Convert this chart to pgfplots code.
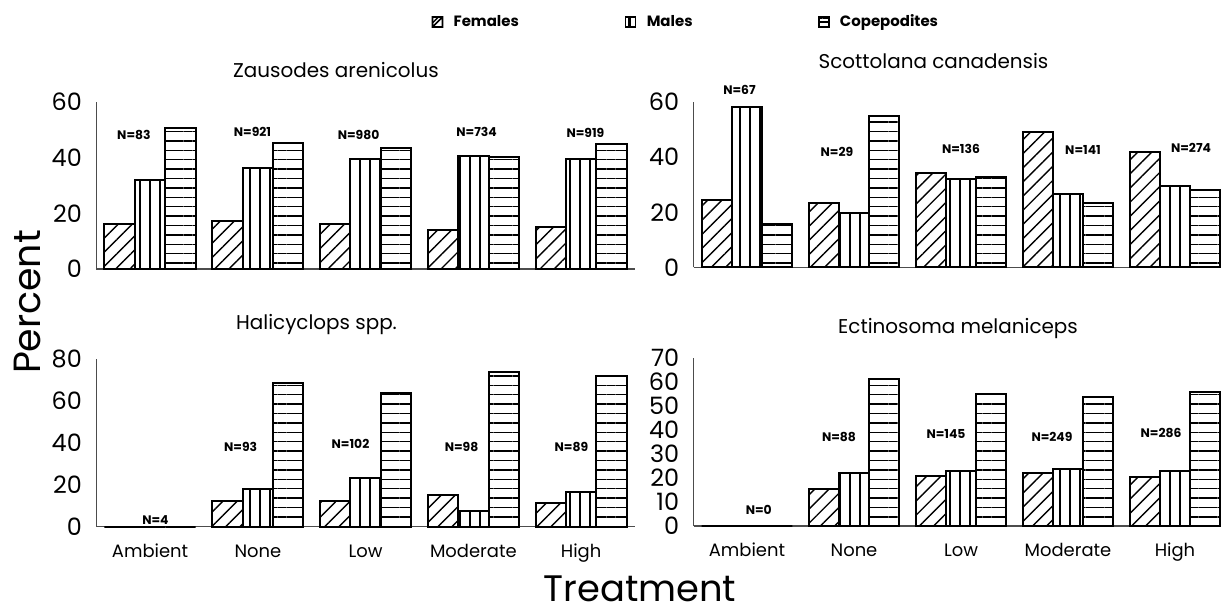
\documentclass[border=0pt]{standalone}
\usepackage{fontspec}
\setmainfont{Poppins}
\usepackage{pgfplots}
\pgfplotsset{compat=1.18}
\usetikzlibrary{patterns.meta}

% hatching for the three life stages
\tikzset{
  fem/.style={pattern={Lines[angle=45,distance=5bp,line width=0.7bp]}},
  mal/.style={pattern={Lines[angle=90,distance=5bp,line width=0.7bp]}},
  cop/.style={pattern={Lines[angle=0,distance=4.7bp,line width=0.7bp]}},
  nlab/.style={font=\bfseries\fontsize{6.2}{6.2}\selectfont, inner sep=0pt},
}

\pgfplotsset{
  panel/.style={
    scale only axis, ybar, bar width=0.282,
    xmin=-0.5, xmax=4.5, ymin=0,
    axis x line*=bottom, axis y line*=left,
    axis line style={line width=0.6bp, black!70},
    major tick length=0pt,
    /pgf/number format/assume math mode=true,
    yticklabel style={font=\fontsize{12}{12}\selectfont, anchor=east, inner sep=0pt, xshift=-7bp},
    xticklabel style={font=\fontsize{9}{9}\selectfont, anchor=base, inner sep=0pt, yshift=-15.25bp},
    title style={font=\fontsize{10}{10}\selectfont, anchor=center, inner sep=0pt},
    every axis plot/.append style={draw=black, line width=1bp},
    clip=false,
  },
  treat/.style={xtick={0,1,2,3,4}, xticklabels={Ambient,None,Low,Moderate,High}},
}

\begin{document}
\begin{tikzpicture}
\path[use as bounding box] (0,0) rectangle (610.5bp,305.5bp);

% Zausodes arenicolus
\begin{axis}[panel, at={(48.1bp,171bp)}, anchor=south west,
  width=269.4bp, height=83.65bp, ymax=60, ytick={0,20,40,60}, xtick=\empty,
  title={Zausodes arenicolus}, title style={at={(axis description cs:0.445,1.1196)}},
  legend columns=3,
  legend style={at={(axis description cs:0.6219,1.4764)}, anchor=west, draw=none, fill=none,
    inner sep=0pt, font=\bfseries\fontsize{7.5}{7.5}\selectfont, nodes={inner sep=0pt},
    /tikz/every odd column/.append style={column sep=5.15bp},
    /tikz/every even column/.append style={column sep=0pt}},
]
\addplot[fem, bar shift=-0.282,
  legend image code/.code={\draw[line width=0.8bp] (0bp,-2.5bp) rectangle (5bp,2.5bp) (0bp,-2.5bp) -- (5bp,2.5bp);}]
  coordinates {(0,16.1) (1,17.3) (2,16.0) (3,14.0) (4,15.0)};
\addlegendentry[text width=85.65bp]{Females}
\addplot[mal, bar shift=0,
  legend image code/.code={\draw[line width=0.8bp] (0bp,-2.5bp) rectangle (5bp,2.5bp) (1.7bp,-2.5bp) -- (1.7bp,2.5bp);}]
  coordinates {(0,31.9) (1,36.3) (2,39.5) (3,40.5) (4,39.3)};
\addlegendentry[text width=85.65bp]{Males}
\addplot[cop, bar shift=0.282,
  legend image code/.code={\draw[line width=0.8bp] (0bp,-2.5bp) rectangle (5bp,2.5bp) (0bp,0bp) -- (5bp,0bp);}]
  coordinates {(0,50.5) (1,45.1) (2,43.3) (3,40.3) (4,44.8)};
\addlegendentry[text width=85.65bp]{Copepodites}
\node[nlab] at (axis cs:-0.15,48.1) {N=83};
\node[nlab] at (axis cs:0.95,49.2) {N=921};
\node[nlab] at (axis cs:1.935,48.1) {N=980};
\node[nlab] at (axis cs:3.03,49.2) {N=734};
\node[nlab] at (axis cs:4.04,48.8) {N=919};
\end{axis}

% Scottolana canadensis
\begin{axis}[panel, at={(346.75bp,171.75bp)}, anchor=south west,
  width=267.5bp, height=82.9bp, ymax=60, ytick={0,20,40,60}, xtick=\empty,
  title={Scottolana canadensis}, title style={at={(axis description cs:0.4486,1.171)}},
]
\addplot[fem, bar shift=-0.282] coordinates {(0,24.4) (1,23.5) (2,34.3) (3,48.9) (4,41.9)};
\addplot[mal, bar shift=0] coordinates {(0,58.0) (1,19.8) (2,32.0) (3,26.5) (4,29.6)};
\addplot[cop, bar shift=0.282] coordinates {(0,15.6) (1,54.9) (2,32.6) (3,23.5) (4,28.0)};
\node[nlab] at (axis cs:-0.07,64.2) {N=67};
\node[nlab] at (axis cs:0.84,41.7) {N=29};
\node[nlab] at (axis cs:2.0,42.9) {N=136};
\node[nlab] at (axis cs:3.14,42.5) {N=141};
\node[nlab] at (axis cs:4.15,43.4) {N=274};
\end{axis}

% Halicyclops spp.
\begin{axis}[panel, treat, at={(48.1bp,42.25bp)}, anchor=south west,
  width=269.4bp, height=83.75bp, ymax=80, ytick={0,20,40,60,80},
  title={Halicyclops spp.}, title style={at={(axis description cs:0.4089,1.1331)}},
]
\addplot[fem, bar shift=-0.282] coordinates {(0,0) (1,12.2) (2,12.2) (3,15.0) (4,11.1)};
\addplot[mal, bar shift=0] coordinates {(0,0) (1,17.8) (2,23.0) (3,7.6) (4,16.3)};
\addplot[cop, bar shift=0.282] coordinates {(0,0) (1,68.4) (2,63.6) (3,73.6) (4,72.0)};
\node[nlab] at (axis cs:0.05,3.1) {N=4};
\node[nlab] at (axis cs:0.84,38.1) {N=93};
\node[nlab] at (axis cs:1.86,39.4) {N=102};
\node[nlab] at (axis cs:2.89,38.1) {N=98};
\node[nlab] at (axis cs:3.91,37.8) {N=89};
\end{axis}

% Ectinosoma melaniceps
\begin{axis}[panel, treat, at={(346.75bp,42.5bp)}, anchor=south west,
  width=267.5bp, height=84.15bp, ymax=70, ytick={0,10,20,30,40,50,60,70},
  title={Ectinosoma melaniceps}, title style={at={(axis description cs:0.4944,1.105)}},
]
\addplot[fem, bar shift=-0.282] coordinates {(0,0) (1,15.3) (2,20.9) (3,21.9) (4,20.5)};
\addplot[mal, bar shift=0] coordinates {(0,0) (1,21.9) (2,22.9) (3,23.7) (4,22.9)};
\addplot[cop, bar shift=0.282] coordinates {(0,0) (1,61.0) (2,54.9) (3,53.8) (4,55.9)};
\node[nlab] at (axis cs:0.11,6.7) {N=0};
\node[nlab] at (axis cs:0.86,36.9) {N=88};
\node[nlab] at (axis cs:1.86,38.3) {N=145};
\node[nlab] at (axis cs:2.85,37.1) {N=249};
\node[nlab] at (axis cs:3.87,38.6) {N=286};
\end{axis}

\node[rotate=90, font=\fontsize{19}{19}\selectfont, anchor=center] at (13.75bp,154.5bp) {Percent};
\node[font=\fontsize{18.5}{18.5}\selectfont, anchor=base, inner sep=0pt] at (320bp,5bp) {Treatment};
\end{tikzpicture}
\end{document}
